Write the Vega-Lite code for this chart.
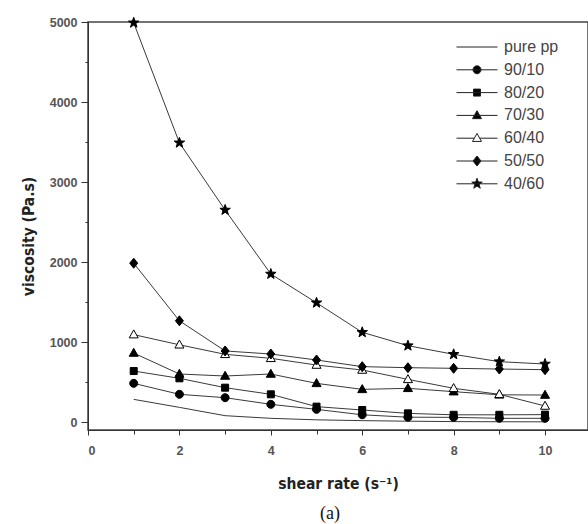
{
  "$schema": "https://vega.github.io/schema/vega-lite/v6.json",
  "width": 500,
  "height": 408,
  "autosize": {"type": "none"},
  "padding": {"left": 88, "top": 22, "right": 0, "bottom": 94},
  "background": "white",
  "title": {"text": "(a)", "orient": "bottom", "font": "Liberation Serif", "fontSize": 18, "fontWeight": "normal", "color": "#111", "offset": 13, "dx": -8},
  "data": {"values": [
    {"x": 1, "v": 283, "s": "pure pp"}, {"x": 2, "v": 183, "s": "pure pp"}, {"x": 3, "v": 79, "s": "pure pp"}, {"x": 4, "v": 46, "s": "pure pp"}, {"x": 5, "v": 27, "s": "pure pp"}, {"x": 6, "v": 17, "s": "pure pp"}, {"x": 7, "v": 10, "s": "pure pp"}, {"x": 8, "v": 5, "s": "pure pp"}, {"x": 9, "v": 3, "s": "pure pp"}, {"x": 10, "v": 2, "s": "pure pp"},
    {"x": 1, "v": 483, "s": "90/10"}, {"x": 2, "v": 346, "s": "90/10"}, {"x": 3, "v": 304, "s": "90/10"}, {"x": 4, "v": 221, "s": "90/10"}, {"x": 5, "v": 158, "s": "90/10"}, {"x": 6, "v": 90, "s": "90/10"}, {"x": 7, "v": 60, "s": "90/10"}, {"x": 8, "v": 58, "s": "90/10"}, {"x": 9, "v": 46, "s": "90/10"}, {"x": 10, "v": 46, "s": "90/10"},
    {"x": 1, "v": 637, "s": "80/20"}, {"x": 2, "v": 546, "s": "80/20"}, {"x": 3, "v": 429, "s": "80/20"}, {"x": 4, "v": 346, "s": "80/20"}, {"x": 5, "v": 192, "s": "80/20"}, {"x": 6, "v": 150, "s": "80/20"}, {"x": 7, "v": 108, "s": "80/20"}, {"x": 8, "v": 90, "s": "80/20"}, {"x": 9, "v": 90, "s": "80/20"}, {"x": 10, "v": 92, "s": "80/20"},
    {"x": 1, "v": 862, "s": "70/30"}, {"x": 2, "v": 600, "s": "70/30"}, {"x": 3, "v": 575, "s": "70/30"}, {"x": 4, "v": 600, "s": "70/30"}, {"x": 5, "v": 483, "s": "70/30"}, {"x": 6, "v": 408, "s": "70/30"}, {"x": 7, "v": 421, "s": "70/30"}, {"x": 8, "v": 379, "s": "70/30"}, {"x": 9, "v": 340, "s": "70/30"}, {"x": 10, "v": 337, "s": "70/30"},
    {"x": 1, "v": 1092, "s": "60/40"}, {"x": 2, "v": 965, "s": "60/40"}, {"x": 3, "v": 846, "s": "60/40"}, {"x": 4, "v": 796, "s": "60/40"}, {"x": 5, "v": 712, "s": "60/40"}, {"x": 6, "v": 650, "s": "60/40"}, {"x": 7, "v": 533, "s": "60/40"}, {"x": 8, "v": 421, "s": "60/40"}, {"x": 9, "v": 346, "s": "60/40"}, {"x": 10, "v": 200, "s": "60/40"},
    {"x": 1, "v": 1985, "s": "50/50"}, {"x": 2, "v": 1265, "s": "50/50"}, {"x": 3, "v": 888, "s": "50/50"}, {"x": 4, "v": 850, "s": "50/50"}, {"x": 5, "v": 775, "s": "50/50"}, {"x": 6, "v": 692, "s": "50/50"}, {"x": 7, "v": 679, "s": "50/50"}, {"x": 8, "v": 671, "s": "50/50"}, {"x": 9, "v": 662, "s": "50/50"}, {"x": 10, "v": 654, "s": "50/50"},
    {"x": 1, "v": 4990, "s": "40/60"}, {"x": 2, "v": 3490, "s": "40/60"}, {"x": 3, "v": 2650, "s": "40/60"}, {"x": 4, "v": 1850, "s": "40/60"}, {"x": 5, "v": 1490, "s": "40/60"}, {"x": 6, "v": 1121, "s": "40/60"}, {"x": 7, "v": 954, "s": "40/60"}, {"x": 8, "v": 846, "s": "40/60"}, {"x": 9, "v": 754, "s": "40/60"}, {"x": 10, "v": 725, "s": "40/60"}
  ]},
  "encoding": {
    "x": {"field": "x", "type": "quantitative", "scale": {"domain": [0, 10.94], "nice": false, "zero": false},
      "axis": {"title": "shear rate (s⁻¹)", "values": [0,1,2,3,4,5,6,7,8,9,10], "labelExpr": "datum.value % 2 === 0 ? datum.label : ''",
        "tickSize": {"condition": {"test": "datum.value % 2 === 0", "value": 5}, "value": 4}, "labelPadding": 9, "titlePadding": 20}},
    "y": {"field": "v", "type": "quantitative", "scale": {"domain": [-100, 5000], "nice": false, "zero": false},
      "axis": {"title": "viscosity (Pa.s)", "values": [0,500,1000,1500,2000,2500,3000,3500,4000,4500,5000], "labelExpr": "datum.value % 1000 === 0 ? datum.label : ''",
        "format": "d", "tickSize": {"condition": {"test": "datum.value % 1000 === 0", "value": 7}, "value": 3}, "labelPadding": 4, "titlePadding": 13, "titleY": 214}}
  },
  "layer": [
    {
      "mark": {"type": "line", "color": "#3a3a3a", "strokeWidth": 1, "clip": true},
      "encoding": {"detail": {"field": "s"}}
    },
    {
      "transform": [{"filter": "datum.s !== 'pure pp'"}],
      "mark": {"type": "point", "size": 100, "stroke": "black", "strokeWidth": 1, "opacity": 1},
      "encoding": {
        "shape": {"field": "s", "type": "nominal", "legend": null, "scale": {
          "domain": ["90/10", "80/20", "70/30", "60/40", "50/50", "40/60"],
          "range": [
            "M-0.8,0A0.8,0.8,0,1,0,0.8,0A0.8,0.8,0,1,0,-0.8,0Z",
            "M-0.7,-0.7H0.7V0.7H-0.7Z",
            "M0,-0.95L0.9,0.65H-0.9Z",
            "M0,-0.95L0.9,0.65H-0.9Z",
            "M0,-1L0.8,0L0,1L-0.8,0Z",
            "M0,-1.1L0.265,-0.364L1.046,-0.34L0.428,0.139L0.647,0.89L0,0.45L-0.647,0.89L-0.428,0.139L-1.046,-0.34L-0.265,-0.364Z"
          ]}},
        "fill": {"field": "s", "type": "nominal", "legend": null, "scale": {
          "domain": ["90/10", "80/20", "70/30", "60/40", "50/50", "40/60"],
          "range": ["black", "black", "black", "white", "black", "black"]}}
      }
    },
    {
      "transform": [{"filter": "false"}],
      "mark": {"type": "point", "size": 100, "strokeWidth": 1, "opacity": 1},
      "encoding": {
        "shape": {"field": "s", "type": "nominal", "title": null, "scale": {
          "domain": ["pure pp", "90/10", "80/20", "70/30", "60/40", "50/50", "40/60"],
          "range": [
            "M-4.1,0H4.1",
            "M-4.1,0H4.1M-0.8,0A0.8,0.8,0,1,0,0.8,0A0.8,0.8,0,1,0,-0.8,0Z",
            "M-4.1,0H4.1M-0.7,-0.7H0.7V0.7H-0.7Z",
            "M-4.1,0H4.1M0,-0.95L0.9,0.65H-0.9Z",
            "M-4.1,0H-0.53M0.53,0H4.1M0,-0.95L0.9,0.65H-0.9Z",
            "M-4.1,0H4.1M0,-1L0.8,0L0,1L-0.8,0Z",
            "M-4.1,0H4.1M0,-1.1L0.265,-0.364L1.046,-0.34L0.428,0.139L0.647,0.89L0,0.45L-0.647,0.89L-0.428,0.139L-1.046,-0.34L-0.265,-0.364Z"
          ]},
          "legend": {"orient": "none", "legendX": 381, "legendY": 17, "symbolSize": 100, "symbolStrokeWidth": 1, "labelOffset": 19, "rowPadding": 6.8, "padding": 0}},
        "fill": {"field": "s", "type": "nominal", "title": null, "scale": {
          "domain": ["pure pp", "90/10", "80/20", "70/30", "60/40", "50/50", "40/60"],
          "range": ["black", "black", "black", "black", "white", "black", "black"]},
          "legend": {"orient": "none", "legendX": 381, "legendY": 17, "symbolSize": 100, "symbolStrokeWidth": 1, "labelOffset": 19, "rowPadding": 6.8, "padding": 0}},
        "stroke": {"field": "s", "type": "nominal", "title": null, "scale": {
          "domain": ["pure pp", "90/10", "80/20", "70/30", "60/40", "50/50", "40/60"],
          "range": ["#222", "#222", "#222", "#222", "#222", "#222", "#222"]},
          "legend": {"orient": "none", "legendX": 381, "legendY": 17, "symbolSize": 100, "symbolStrokeWidth": 1, "labelOffset": 19, "rowPadding": 6.8, "padding": 0}}
      }
    }
  ],
  "resolve": {"scale": {"shape": "independent", "fill": "independent", "stroke": "independent"}},
  "config": {
    "view": {"stroke": "#444", "strokeWidth": 1.5},
    "axis": {"grid": false, "domainColor": "#333", "tickColor": "#333", "labelColor": "#555", "labelFont": "Liberation Sans", "labelFontWeight": "bold", "labelFontSize": 12.5,
      "titleFont": "DejaVu Sans Condensed, DejaVu Sans", "titleFontWeight": "bold", "titleFontSize": 15.5, "titleColor": "#222"},
    "legend": {"labelFont": "Liberation Sans", "labelFontSize": 16, "labelColor": "#444"}
  }
}
